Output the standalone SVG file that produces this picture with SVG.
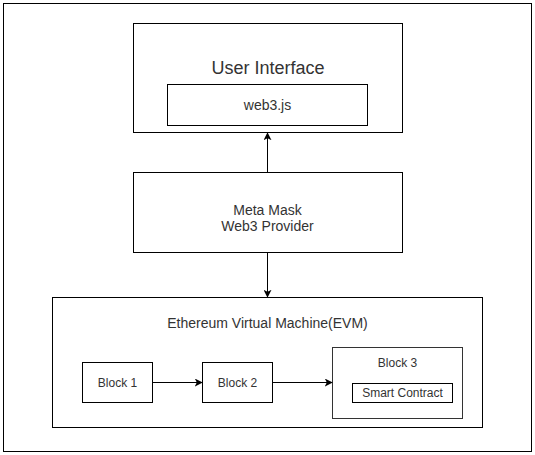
<svg xmlns="http://www.w3.org/2000/svg" width="535" height="455" viewBox="0 0 535 455">
<style>
rect{fill:#fff;stroke:#000;stroke-width:1}
text{font-family:"Liberation Sans",Arial,sans-serif;fill:#333;text-anchor:middle;font-size:14px}
.s12{font-size:12px}
.c{fill:none;stroke:#000;stroke-width:1}
</style>
<defs>
<marker id="ah" viewBox="0 0 10 10" refX="9" refY="5" markerWidth="8" markerHeight="8" markerUnits="userSpaceOnUse" orient="auto">
<path d="M0,0 L10,5 L0,10 L2.5,5 Z" fill="#000"/>
</marker>
</defs>
<g id="frame"><rect x="3.5" y="3.5" width="528" height="448"/></g>
<g id="ui">
<rect x="133.5" y="23.5" width="269" height="109"/>
<text x="268" y="74" style="font-size:18px">User Interface</text>
</g>
<g id="web3js">
<rect x="167.5" y="84.5" width="200" height="41"/>
<text x="267.5" y="110">web3.js</text>
</g>
<g id="metamask">
<rect x="133.5" y="172.5" width="269" height="80"/>
<text x="267.5" y="215">Meta Mask</text>
<text x="267.5" y="231">Web3 Provider</text>
</g>
<g id="evm">
<rect x="52.5" y="297.5" width="430" height="130"/>
<text x="267.5" y="328">Ethereum Virtual Machine(EVM)</text>
</g>
<g id="block1">
<rect x="82.5" y="362.5" width="70" height="40"/>
<text x="117.5" y="387" class="s12">Block 1</text>
</g>
<g id="block2">
<rect x="202.5" y="362.5" width="70" height="40"/>
<text x="237.5" y="387" class="s12">Block 2</text>
</g>
<g id="block3">
<rect x="332.5" y="347.5" width="130" height="71" style="stroke:#333"/>
<text x="397.5" y="367" class="s12">Block 3</text>
</g>
<g id="smartcontract">
<rect x="352.5" y="383.5" width="100" height="19"/>
<text x="402.5" y="397" class="s12">Smart Contract</text>
</g>
<g id="connectors">
<path class="c" d="M267.5,172 L267.5,133" marker-end="url(#ah)"/>
<path class="c" d="M267.5,253 L267.5,297" marker-end="url(#ah)"/>
<path class="c" d="M153,382.5 L202,382.5" marker-end="url(#ah)"/>
<path class="c" d="M273,382.5 L332,382.5" marker-end="url(#ah)"/>
</g>
</svg>
